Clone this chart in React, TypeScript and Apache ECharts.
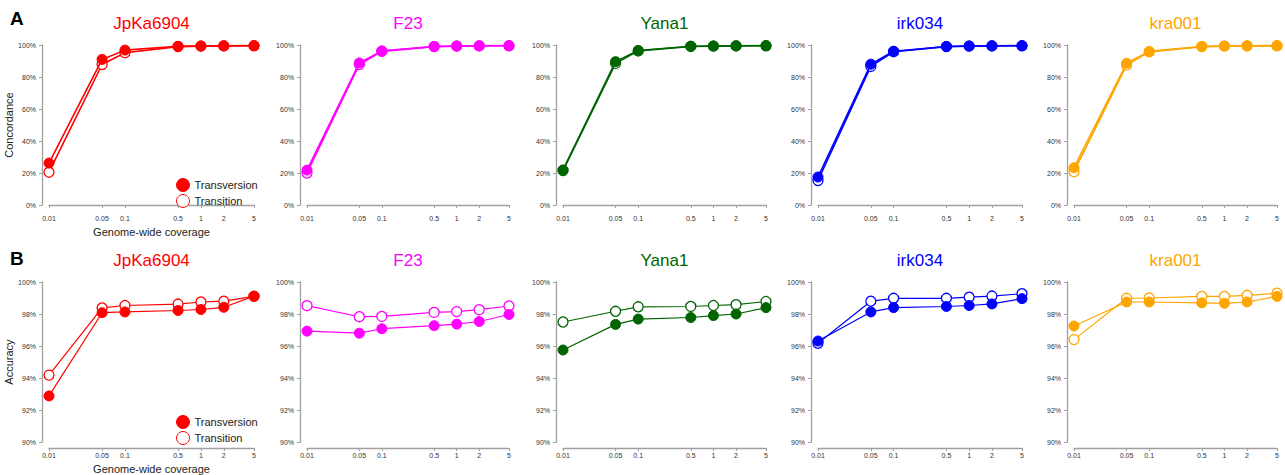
import React, { useEffect, useRef } from "react";
import * as echarts from "echarts";

// ---- data ----
const coverage = [0.01, 0.05, 0.1, 0.5, 1, 2, 5];
const xTickLabels = ["0.01", "0.05", "0.1", "0.5", "1", "2", "5"];
const samples = ["JpKa6904", "F23", "Yana1", "irk034", "kra001"];
const sampleColors = ["#FF0000", "#FF00FF", "#006400", "#0000FF", "#FFA500"];
const seriesNames = ["Transversion", "Transition"];

// Concordance (%), panel A
const concTvJpKa6904 = [26.2, 91.0, 96.8, 99.2, 99.4, 99.5, 99.6];
const concTiJpKa6904 = [20.5, 87.8, 95.2, 99.0, 99.3, 99.4, 99.5];
const concTvF23 = [21.8, 88.8, 96.3, 99.1, 99.4, 99.5, 99.6];
const concTiF23 = [20.0, 87.8, 96.0, 99.0, 99.3, 99.4, 99.5];
const concTvYana1 = [21.9, 89.6, 96.6, 99.2, 99.4, 99.5, 99.6];
const concTiYana1 = [21.5, 88.5, 96.3, 99.1, 99.3, 99.4, 99.5];
const concTvIrk034 = [17.5, 88.0, 96.1, 99.1, 99.4, 99.5, 99.6];
const concTiIrk034 = [15.3, 86.6, 95.8, 99.0, 99.3, 99.4, 99.5];
const concTvKra001 = [23.3, 88.6, 96.0, 99.1, 99.4, 99.5, 99.6];
const concTiKra001 = [20.8, 87.4, 95.7, 99.0, 99.3, 99.4, 99.5];

// Accuracy (%), panel B
const accTvJpKa6904 = [92.88, 98.08, 98.13, 98.22, 98.28, 98.42, 99.12];
const accTiJpKa6904 = [94.18, 98.38, 98.53, 98.62, 98.75, 98.8, 99.1];
const accTvF23 = [96.93, 96.8, 97.08, 97.27, 97.37, 97.53, 97.97];
const accTiF23 = [98.52, 97.83, 97.85, 98.1, 98.15, 98.27, 98.5];
const accTvYana1 = [95.75, 97.35, 97.68, 97.78, 97.9, 98.0, 98.4];
const accTiYana1 = [97.5, 98.17, 98.45, 98.47, 98.53, 98.58, 98.78];
const accTvIrk034 = [96.31, 98.13, 98.4, 98.47, 98.53, 98.63, 98.96];
const accTiIrk034 = [96.17, 98.8, 98.98, 98.98, 99.05, 99.12, 99.27];
const accTvKra001 = [97.25, 98.75, 98.75, 98.7, 98.67, 98.75, 99.1];
const accTiKra001 = [96.4, 98.98, 99.0, 99.1, 99.1, 99.17, 99.3];

const concTv = [concTvJpKa6904, concTvF23, concTvYana1, concTvIrk034, concTvKra001];
const concTi = [concTiJpKa6904, concTiF23, concTiYana1, concTiIrk034, concTiKra001];
const accTv = [accTvJpKa6904, accTvF23, accTvYana1, accTvIrk034, accTvKra001];
const accTi = [accTiJpKa6904, accTiF23, accTiYana1, accTiIrk034, accTiKra001];

const rowLetters = ["A", "B"];
const rowYNames = ["Concordance", "Accuracy"];
const xName = "Genome-wide coverage";

// ---- layout ----
const panelLeft = [49, 307, 563, 818, 1074];
const panelRight = [254, 509, 766, 1022, 1277];
const rowTop = [45, 282];
const plotHeight = 160;
const FONT = "'Liberation Sans', Arial, Helvetica, sans-serif";
const AXIS_GRAY = "#a0a0a0";

function fmtX(v: number): string {
  for (let i = 0; i < coverage.length; i++) {
    if (Math.abs(Math.log10(v) - Math.log10(coverage[i])) < 1e-6) return xTickLabels[i];
  }
  return "";
}

export default function App() {
  const ref = useRef<HTMLDivElement>(null);
  useEffect(() => {
    document.body.style.margin = "0";
    if (!ref.current) return;
    const chart = echarts.init(ref.current, undefined, { renderer: "svg" });

    const grids: any[] = [];
    const xAxes: any[] = [];
    const yAxes: any[] = [];
    const series: any[] = [];
    const titles: any[] = [];
    const legends: any[] = [];

    for (let row = 0; row < 2; row++) {
      const tvRows = row === 0 ? concTv : accTv;
      const tiRows = row === 0 ? concTi : accTi;
      titles.push({
        text: rowLetters[row],
        left: 10,
        top: row === 0 ? 9 : 249,
        padding: 0,
        textStyle: { fontSize: 19, fontWeight: "bold", color: "#000", fontFamily: FONT },
      });
      for (let col = 0; col < 5; col++) {
        const g = row * 5 + col;
        const color = sampleColors[col];
        grids.push({
          left: panelLeft[col],
          top: rowTop[row],
          width: panelRight[col] - panelLeft[col],
          height: plotHeight,
          containLabel: false,
        });
        titles.push({
          text: samples[col],
          left: (panelLeft[col] + panelRight[col]) / 2,
          textAlign: "center",
          top: row === 0 ? 15 : 252,
          padding: 0,
          textStyle: { fontSize: 17, fontWeight: "normal", color, fontFamily: FONT },
        });
        xAxes.push({
          type: "log",
          logBase: 10,
          gridIndex: g,
          min: 0.01,
          max: 5,
          offset: 6,
          axisLine: { show: true, lineStyle: { color: AXIS_GRAY, width: 1.3 } },
          axisTick: { show: true, length: 3, customValues: coverage, lineStyle: { color: AXIS_GRAY } },
          axisLabel: {
            customValues: coverage,
            fontSize: 7,
            color: "#333",
            margin: 4,
            fontFamily: FONT,
            formatter: (v: number) => fmtX(v),
          },
          minorTick: { show: false },
          splitLine: { show: false },
          name: col === 0 ? xName : "",
          nameLocation: "middle",
          nameGap: 15,
          nameTextStyle: { fontSize: 11, color: "#222", fontFamily: FONT },
        });
        yAxes.push({
          type: "value",
          gridIndex: g,
          min: row === 0 ? 0 : 90,
          max: 100,
          interval: row === 0 ? 20 : 2,
          offset: 7,
          axisLine: { show: true, lineStyle: { color: AXIS_GRAY, width: 1.3 } },
          axisTick: { show: true, length: 3, lineStyle: { color: AXIS_GRAY } },
          axisLabel: { fontSize: 7, color: "#333", margin: 6, formatter: "{value}%", fontFamily: FONT },
          splitLine: { show: false },
          name: col === 0 ? rowYNames[row] : "",
          nameLocation: "middle",
          nameGap: 22,
          nameRotate: 90,
          nameTextStyle: { fontSize: 11, color: "#222", fontFamily: FONT },
        });
        const lw = row === 0 ? 1.6 : 1.2;
        series.push({
          type: "line",
          name: seriesNames[1],
          xAxisIndex: g,
          yAxisIndex: g,
          data: coverage.map((c, i) => [c, tiRows[col][i]]),
          symbol: "circle",
          symbolSize: 10,
          showSymbol: true,
          lineStyle: { color, width: lw },
          itemStyle: { color: "#ffffff", borderColor: color, borderWidth: 1.3 },
          emphasis: { disabled: true },
          z: 2,
        });
        series.push({
          type: "line",
          name: seriesNames[0],
          xAxisIndex: g,
          yAxisIndex: g,
          data: coverage.map((c, i) => [c, tvRows[col][i]]),
          symbol: "circle",
          symbolSize: 10,
          showSymbol: true,
          lineStyle: { color, width: lw },
          itemStyle: { color, borderColor: color, borderWidth: 1 },
          emphasis: { disabled: true },
          z: 3,
        });
      }
      legends.push({
        data: seriesNames,
        orient: "vertical",
        left: 176,
        top: row === 0 ? 178 : 415,
        icon: "circle",
        itemWidth: 13,
        itemHeight: 13,
        itemGap: 2,
        padding: 0,
        selectedMode: false,
        itemStyle: { borderWidth: 1 },
        textStyle: { fontSize: 11, color: "#222", fontFamily: FONT },
      });
    }

    chart.setOption({
      animation: false,
      backgroundColor: "#ffffff",
      textStyle: { fontFamily: FONT },
      title: titles,
      legend: legends,
      grid: grids,
      xAxis: xAxes,
      yAxis: yAxes,
      series,
    });
    return () => chart.dispose();
  }, []);
  return <div ref={ref} style={{ width: 1285, height: 475 }} />;
}
